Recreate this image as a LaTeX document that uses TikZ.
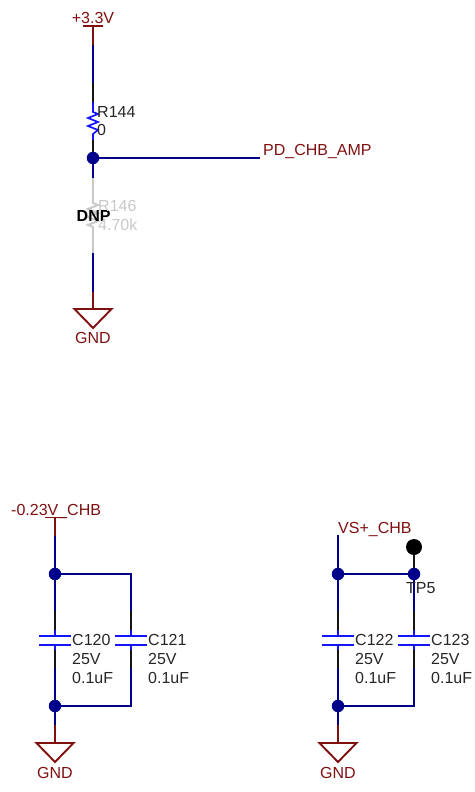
\documentclass[tikz,border=0pt]{standalone}
\usepackage{fontspec}
\setmainfont{Liberation Sans}
\definecolor{netblue}{RGB}{0,0,139}
\definecolor{pinblue}{RGB}{20,20,255}
\definecolor{pwrred}{RGB}{128,16,16}
\definecolor{greyed}{RGB}{200,200,200}
\definecolor{pinblack}{RGB}{20,20,20}
\tikzset{
 wire/.style={draw=netblue,line width=1.9pt},
 pwr/.style={draw=pwrred,line width=1.9pt},
 pin/.style={draw=pinblack,line width=1.9pt},
 plate/.style={draw=pinblue,line width=1.9pt},
 res/.style={draw=pinblue,line width=1.7pt,line join=miter},
 dead/.style={draw=greyed,line width=1.9pt},
 dot/.style={circle,fill=netblue,draw=none,minimum size=12.5pt,inner sep=0pt},
 tpdot/.style={circle,fill=black,draw=none,minimum size=16pt,inner sep=0pt},
 txt/.style={inner sep=0pt,anchor=base west,text=black!85,font=\fontsize{16}{18}\selectfont},
 redtxt/.style={txt,text=pwrred},
 greytxt/.style={txt,text=greyed},
}
\newcommand{\capacitor}[4]{% x, name, label, 
 \coordinate (#2pa) at (#1,611);
 \coordinate (#2pb) at (#1,630);
 \coordinate (#2pc) at (#1,636);
 \coordinate (#2pd) at (#1,645);
 \coordinate (#2pe) at (#1,650);
 \coordinate (#2pf) at (#1,668);
 \coordinate (#2la) at (#1-16,636);
 \coordinate (#2lb) at (#1+16,636);
 \coordinate (#2lc) at (#1-16,645);
 \coordinate (#2ld) at (#1+16,645);
 \draw[pin] (#2pa) -- (#2pb);
 \draw[plate] (#2pb) -- (#2pc);
 \draw[plate] (#2pd) -- (#2pe);
 \draw[pin] (#2pe) -- (#2pf);
 \draw[plate] (#2la) -- (#2lb);
 \draw[plate] (#2lc) -- (#2ld);
 \node[txt] (#2t1) at (#1+17,645) {#3};
 \node[txt] (#2t2) at (#1+17,664) {25V};
 \node[txt] (#2t3) at (#1+17,683) {0.1uF};
}
\newcommand{\gndsym}[2]{% x, name
 \coordinate (#2r) at (#1,725);
 \coordinate (#2t) at (#1,743);
 \draw[pwr] (#2r) -- (#2t);
 \draw[pwr,line join=miter] (#1-18.5,743) -- (#1+18.5,743) -- (#1,762) -- cycle;
 \node[redtxt,anchor=base] (#2l) at (#1,778) {GND};
}
\begin{document}
\begin{tikzpicture}[x=1pt,y=-1pt]
\useasboundingbox (0,0) rectangle (474,792);
% top part
\coordinate (a0) at (93,26);
\coordinate (a1) at (93,45);
\coordinate (a2) at (93,83);
\coordinate (a3) at (93,102);
\coordinate (a4) at (93,112);
\coordinate (a5) at (93,134);
\coordinate (a6) at (93,140);
\node[dot] (j1) at (93,158) {};
\coordinate (pd) at (260,158);
\coordinate (b1) at (93,178);
\coordinate (b2) at (93,253);
\coordinate (b3) at (93,292);
\coordinate (b4) at (93,309);
\draw[pwr] (83,26) -- (103,26);
\draw[pwr] (a0) -- (a1);
\draw[wire] (a1) -- (a2);
\draw[pin] (a2) -- (a3);
\draw[res] (a3) -- (a4) -- (98,114) -- (88,118) -- (98,122) -- (88,126) -- (98,130) -- (a5) -- (a6);
\draw[pin] (a6) -- (j1);
\draw[wire] (j1) -- (pd);
\draw[wire] (j1) -- (b1);
\draw[dead] (b1) -- (93,203) -- (98,205) -- (88,209) -- (98,213) -- (88,217) -- (98,221) -- (88,225) -- (93,227) -- (b2);
\node[inner sep=0pt,anchor=base west,font=\fontsize{16}{18}\selectfont\bfseries] (dnp) at (76.5,221) {DNP};
\draw[wire] (b2) -- (b3);
\draw[pwr] (b3) -- (b4);
\draw[pwr,line join=miter] (74.5,309) -- (111.5,309) -- (93,328) -- cycle;
\node[redtxt,anchor=base] (vcc) at (93,24) {+3.3V};
\node[txt] (r144) at (97,117) {R144};
\node[txt] (r0) at (97,135) {0};
\node[greytxt] (r146) at (98,211) {R146};
\node[greytxt] (r470) at (98,230) {4.70k};
\node[redtxt] (pdl) at (263,155.5) {PD\_CHB\_AMP};
\node[redtxt,anchor=base] (g0) at (93,343.5) {GND};
% left pair
\coordinate (c0) at (55,517.5);
\coordinate (c1) at (55,536);
\node[dot] (j2) at (55,574) {};
\node[dot] (j3) at (55,706) {};
\coordinate (c2) at (131,574);
\coordinate (c3) at (131,706);
\coordinate (c4) at (55,725);
\draw[pwr] (45,517.5) -- (66,517.5);
\draw[pwr] (c0) -- (c1);
\draw[wire] (c1) -- (j2);
\draw[wire] (j2) -- (55,611);
\draw[wire,line join=miter] (j2) -- (c2) -- (131,611);
\draw[wire] (55,668) -- (j3);
\draw[wire,line join=miter] (131,668) -- (c3) -- (j3);
\draw[wire] (j3) -- (c4);
\capacitor{55}{ca}{C120}{}
\capacitor{131}{cb}{C121}{}
\gndsym{55}{ga}
\node[redtxt] (m23) at (11,515) {-0.23V\_CHB};
% right pair
\coordinate (d0) at (338,535);
\node[dot] (j4) at (338,574) {};
\node[dot] (j5) at (414,574) {};
\node[dot] (j6) at (338,706) {};
\node[tpdot] (tp) at (414,547) {};
\coordinate (d3) at (414,706);
\coordinate (d4) at (338,725);
\draw[wire] (d0) -- (j4);
\draw[wire] (j4) -- (338,611);
\draw[wire] (j4) -- (j5);
\draw[wire] (j5) -- (414,611);
\draw[pin] (tp) -- (j5);
\draw[wire] (338,668) -- (j6);
\draw[wire,line join=miter] (414,668) -- (d3) -- (j6);
\draw[wire] (j6) -- (d4);
\capacitor{338}{cc}{C122}{}
\capacitor{414}{cd}{C123}{}
\gndsym{338}{gb}
\node[redtxt] (vs) at (338,533) {VS+\_CHB};
\node[txt] (tpl) at (406,593) {TP5};
\end{tikzpicture}
\end{document}
